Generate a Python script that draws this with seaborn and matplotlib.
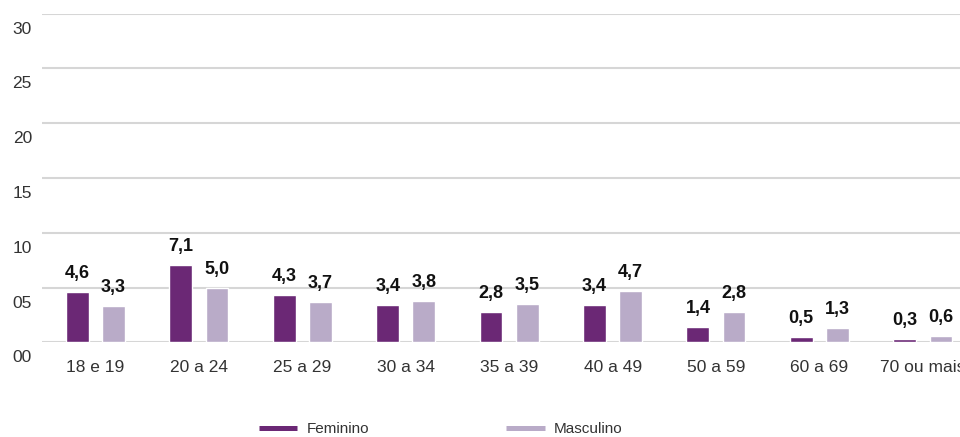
import matplotlib
matplotlib.use("Agg")
import matplotlib.pyplot as plt
from matplotlib.lines import Line2D
from matplotlib.transforms import ScaledTranslation
import seaborn as sns
import pandas as pd

categories = ["18 e 19", "20 a 24", "25 a 29", "30 a 34", "35 a 39",
              "40 a 49", "50 a 59", "60 a 69", "70 ou mais"]
feminino = [4.6, 7.1, 4.3, 3.4, 2.8, 3.4, 1.4, 0.5, 0.3]
masculino = [3.3, 5.0, 3.7, 3.8, 3.5, 4.7, 2.8, 1.3, 0.6]
series_names = ["Feminino", "Masculino"]
y_ticks = [0, 5, 10, 15, 20, 25, 30]
y_tick_labels = ["00", "05", "10", "15", "20", "25", "30"]

colors = {"Feminino": "#6b2875", "Masculino": "#b9abc8"}

df = pd.DataFrame({
    "Faixa": categories * 2,
    "Sexo": [series_names[0]] * len(categories) + [series_names[1]] * len(categories),
    "Valor": feminino + masculino,
})

sns.set_style("white")
plt.rcParams["font.family"] = ["Liberation Sans", "DejaVu Sans"]

fig = plt.figure(figsize=(9.6, 4.37), dpi=100)
ax = fig.add_axes([41.7 / 960, 94.7 / 437, 938 / 960, 328.6 / 437])

sns.barplot(data=df, x="Faixa", y="Valor", hue="Sexo", order=categories,
            hue_order=series_names, palette=colors, width=0.7, gap=0.37,
            saturation=1, ax=ax, legend=False, errorbar=None)

for cont in ax.containers:
    ax.bar_label(cont, labels=[f"{v:.1f}".replace(".", ",") for v in cont.datavalues],
                 padding=7, fontsize=13, fontweight="bold", color="#111111")

ax.set_xlim(-0.52, 8.55)
ax.set_ylim(0, 30)
ax.set_yticks(y_ticks)
ax.set_yticklabels(y_tick_labels)
ax.yaxis.grid(True, color="#d6d6d6", linewidth=1.5)
ax.set_axisbelow(True)
for s in ax.spines.values():
    s.set_visible(False)
ax.tick_params(axis="both", length=0, labelsize=12.5, labelcolor="#333333")
ax.tick_params(axis="y", pad=7)
ax.tick_params(axis="x", pad=13)
ax.set_xlabel("")
ax.set_ylabel("")

offset = ScaledTranslation(0, -14 / 100, fig.dpi_scale_trans)
for lab in ax.get_yticklabels():
    lab.set_transform(lab.get_transform() + offset)

handles = [Line2D([0], [0], color=colors[n], linewidth=3.6, solid_capstyle="butt")
           for n in series_names]
fig.legend(handles, series_names, loc="center left",
           bbox_to_anchor=(259 / 960, 1 - 429 / 437), ncol=2, frameon=False,
           fontsize=11, handlelength=2.5, handletextpad=0.6, columnspacing=9.0,
           borderpad=0, borderaxespad=0, labelcolor="#333333")

fig.savefig("out.png", dpi=100)
